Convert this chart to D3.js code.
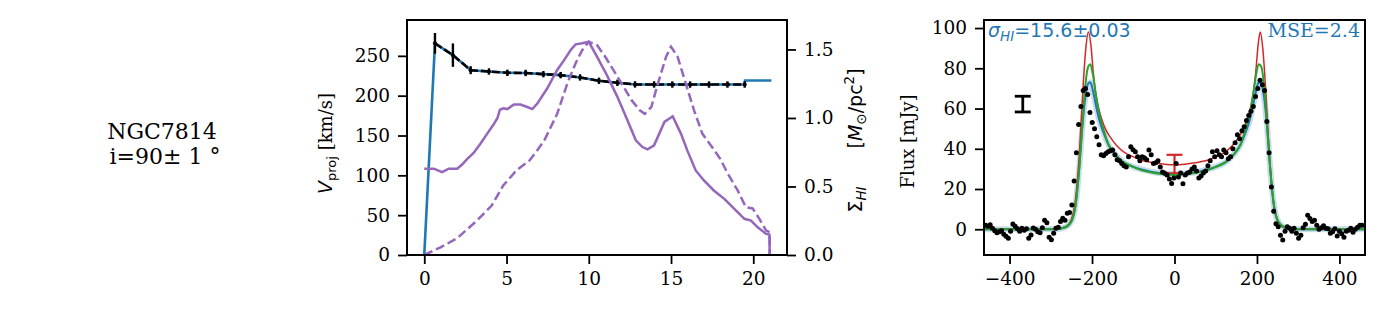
<!DOCTYPE html>
<html>
<head>
<meta charset="utf-8">
<script src="https://cdn.jsdelivr.net/npm/d3@7"></script>
<style>
  body { margin: 0; background: #fff; }
  text { font-family: "DejaVu Serif", serif; }
</style>
</head>
<body>
<div id="wrapper"></div>
<script>
// galaxy label
const galaxyName = "NGC7814";
const inclination = "i=90\u00b1 1 \u00b0";

// rotation curve: observed points (radius kpc, velocity km/s, error)
const rObs = [0.65, 1.74, 2.82, 3.93, 5.05, 6.16, 7.24, 8.29, 9.47, 10.62, 11.74, 12.81, 13.97, 15.08, 16.16, 17.31, 18.43, 19.48];
const vObs = [265.7, 250.9, 232, 230.4, 228.7, 228.5, 227, 225.8, 222.9, 218.7, 216.2, 214.1, 214.1, 214, 214, 214, 214, 214];
const vErr = [13, 14.7, 5, 4, 4, 4, 4, 4, 4, 4, 4, 4, 4, 4, 4, 4, 4, 4];

// model rotation curve (blue)
const rModel = [0, 0.65, 1.74, 2.82, 3.93, 5.05, 6.16, 7.24, 8.29, 9.47, 10.62, 11.74, 12.81, 13.97, 15.08, 16.16, 17.31, 18.43, 19.48, 19.5, 21.1];
const vModel = [0, 265.7, 250.9, 232, 230.4, 228.7, 228.5, 227, 225.8, 222.9, 218.7, 216.2, 214.1, 214.1, 214, 214, 214, 214, 214, 219, 219];

// surface density profiles (right axis)
const rSigSolid = [0, 0.58, 1.08, 1.49, 2.0, 2.3, 2.6, 3.0, 3.4, 3.8, 4.2, 4.45, 4.6, 4.8, 5.05, 5.45, 5.85, 6.26, 6.57, 6.87, 7.47, 8.08, 8.49, 8.9, 9.2, 9.61, 10.0, 10.5, 11.1, 11.74, 12.35, 12.86, 13.26, 13.57, 13.97, 14.6, 15.1, 15.6, 16.0, 16.5, 17.0, 17.6, 18.24, 18.85, 19.46, 19.86, 20.27, 20.78, 20.98, 21.0];
const sigSolid  = [0.63, 0.63, 0.605, 0.63, 0.63, 0.66, 0.70, 0.745, 0.81, 0.88, 0.95, 1.0, 1.06, 1.07, 1.065, 1.098, 1.098, 1.08, 1.065, 1.105, 1.215, 1.35, 1.42, 1.496, 1.537, 1.545, 1.556, 1.447, 1.313, 1.154, 0.983, 0.837, 0.788, 0.771, 0.80, 0.971, 1.012, 0.886, 0.76, 0.617, 0.544, 0.471, 0.41, 0.337, 0.264, 0.251, 0.202, 0.154, 0.15, 0];
const rSigDash = [0, 0.99, 2.0, 3.2, 4.1, 4.8, 5.6, 6.4, 6.86, 7.3, 8.08, 8.69, 9.2, 9.6, 10.0, 10.5, 11.0, 11.5, 12.0, 12.6, 13.1, 13.4, 13.8, 14.2, 14.7, 15.0, 15.4, 15.9, 16.4, 16.9, 17.6, 18.0, 18.4, 19.05, 19.55, 19.96, 20.37, 20.78, 21.0, 21.0];
const sigDash  = [0, 0.056, 0.122, 0.251, 0.361, 0.507, 0.617, 0.69, 0.763, 0.837, 1.03, 1.25, 1.40, 1.495, 1.556, 1.532, 1.447, 1.349, 1.25, 1.13, 1.056, 1.03, 1.08, 1.25, 1.447, 1.52, 1.447, 1.25, 1.056, 0.886, 0.77, 0.70, 0.605, 0.471, 0.349, 0.34, 0.264, 0.178, 0.166, 0];

// HI spectrum: channels start at -458 km/s, 5.5 km/s wide
const chanStart = -458, chanWidth = 5.5;
const fluxObs = [2.0, 1.5, 2.2, 0.5, -0.8, -1.8, -1.2, -0.8, -2.5, -3.5,
  -4.5, -1.0, 2.6, 1.5, 0.2, -1.0, 0.5, -0.5, 0.2, -4.5,
  -2.8, 0.6, 0.0, -1.2, -1.8, 0.8, 4.5, 3.2, -4.0, -5.2,
  -2.0, 0.5, 1.0, 3.8, 5.5, 4.5, 8.0, 8.3, 12.0, 24,
  38, 52, 61, 69, 70, 67, 58, 53, 50, 46,
  42, 37, 36.5, 37.7, 38.5, 39, 39.4, 37, 34.5, 34,
  32.7, 31.5, 31, 36, 41, 39.5, 38.5, 36, 34, 36,
  35.5, 34.5, 39.4, 37, 32.7, 33, 34, 31, 28.5, 27.8,
  27, 25, 22.7, 25.5, 32.7, 26, 28, 22.6, 27, 28,
  28.5, 30, 31, 29, 25.5, 26.5, 28, 29, 31.6, 34,
  38.5, 36, 39, 37, 36, 39.4, 38, 35, 36, 40,
  43, 47, 45, 49, 51, 54, 56.5, 58.6, 61, 66,
  70, 74, 71.8, 69, 53.5, 38, 21, 9, 2.7, 1.3,
  -3, -5.4, -1.0, 1.3, 0.5, -1.0, 0.5, -2.0, -4.5, -3.0,
  0.8, 2.5, 7.0, 5.4, 3.8, 4.5, 2.0, 0.0, 0.8, 1.8,
  0.5, 0.2, -2.0, -1.2, 0.2, -3.4, -1.0, -2.2, -4.0, -1.0,
  -0.5, 0.5, -1.5, 0.0, 1.0, 2.0, 2.0];

// model profiles
const vProf = [-470, -290, -265, -250, -240, -232, -224, -216, -209, -204, -198, -190, -182, -172, -160, -145, -125, -100, -75, -50, -25, 0,
  25, 50, 75, 100, 125, 145, 160, 172, 182, 190, 198, 204, 210, 217, 225, 233, 241, 251, 266, 290, 470];
const fluxFit = [0, 0, 1, 4, 12, 28, 50, 66, 72.5, 73, 69, 61, 54, 48, 42, 37.5, 33.5, 31, 29.5, 28.3, 27.7, 27.5,
  27.7, 28.3, 29.5, 31, 33.5, 37.5, 42, 48, 54, 61, 69, 73, 72.5, 66, 50, 28, 12, 4, 1, 0, 0];
const fluxGreen = [0, 0, 1, 4, 12, 28, 50, 72, 81, 82, 77, 66, 57, 49.5, 42, 37.5, 33.5, 31, 29, 28, 27.3, 27,
  27.3, 28, 29, 31, 33.5, 37.5, 42, 49.5, 57, 66, 77, 82, 81, 72, 50, 28, 12, 4, 1, 0, 0];
const vRed = [-470, -290, -265, -250, -240, -230, -222, -215, -209, -203, -197, -190, -180, -170, -155, -140, -120, -100, -75, -50, -25, 0,
  25, 50, 75, 100, 120, 140, 155, 170, 180, 190, 197, 203, 208, 214, 221, 229, 239, 249, 264, 290, 470];
const fluxRed = [0, 0, 1, 5, 15, 40, 70, 90, 98, 92, 78, 66, 57, 51, 45.5, 41.5, 38, 36, 34, 33, 32.3, 32,
  32.3, 33, 34, 36, 38, 41.5, 45.5, 51, 57, 66, 78, 92, 98, 90, 70, 40, 15, 5, 1, 0, 0];

// error bars on the spectrum panel
const noiseBar = { v: -368, lo: 58.3, hi: 66.1 };
const redBar = { v: 0, lo: 27.8, hi: 37 };

const sigmaText = "15.6\u00b10.03";
const mseText = "MSE=2.4";

const xTicksRC = [0, 5, 10, 15, 20];
const yTicksRC = [0, 50, 100, 150, 200, 250];
const yTicksSig = [0, 0.5, 1.0, 1.5];
const xTicksSp = [-400, -200, 0, 200, 400];
const yTicksSp = [0, 20, 40, 60, 80, 100];

const W = 1384, H = 311;
const blue = "#1f77b4", purple = "#9467bd", green = "#2ca02c", red = "#d62728";

const svg = d3.select("#wrapper").append("svg").attr("width", W).attr("height", H);

// title text
const title = svg.append("text").attr("text-anchor", "middle").style("font-size", "22px");
title.append("tspan").attr("x", 162).attr("y", 139).text(galaxyName);
title.append("tspan").attr("x", 165).attr("y", 164).text(inclination);

function styleAxis(g) {
  g.select(".domain").remove();
  g.selectAll(".tick line").attr("stroke", "#000").attr("stroke-width", 1.8);
  g.selectAll(".tick text").style("font-family", "DejaVu Serif").style("font-size", "18.5px").attr("fill", "#000");
}

// ---------- rotation curve panel ----------
const p1 = { l: 407, r: 787, t: 20, b: 255 };
const x1 = d3.scaleLinear().domain([-1.05, 22.05]).range([p1.l, p1.r]);
const y1 = d3.scaleLinear().domain([0, 295]).range([p1.b, p1.t]);
const y1r = d3.scaleLinear().domain([0, 1.715]).range([p1.b, p1.t]);

svg.append("clipPath").attr("id", "c1").append("rect")
  .attr("x", p1.l).attr("y", p1.t).attr("width", p1.r - p1.l).attr("height", p1.b - p1.t);
const g1 = svg.append("g").attr("clip-path", "url(#c1)");

const line1 = d3.line().x(d => x1(d[0])).y(d => y1(d[1]));
g1.append("path").datum(d3.zip(rModel, vModel)).attr("d", line1)
  .attr("fill", "none").attr("stroke", blue).attr("stroke-width", 2.6);
g1.append("path").datum(d3.zip(rObs, vObs)).attr("d", line1)
  .attr("fill", "none").attr("stroke", "#000").attr("stroke-width", 2.6).attr("stroke-dasharray", "8,3");
g1.selectAll(".eb").data(d3.zip(rObs, vObs, vErr)).enter().append("line")
  .attr("x1", d => x1(d[0])).attr("x2", d => x1(d[0]))
  .attr("y1", d => y1(d[1] - d[2])).attr("y2", d => y1(d[1] + d[2]))
  .attr("stroke", "#000").attr("stroke-width", 2.4);
g1.selectAll(".pt").data(d3.zip(rObs, vObs)).enter().append("circle")
  .attr("cx", d => x1(d[0])).attr("cy", d => y1(d[1])).attr("r", 2).attr("fill", "#000");

const lineSig = d3.line().x(d => x1(d[0])).y(d => y1r(d[1]));
g1.append("path").datum(d3.zip(rSigSolid, sigSolid)).attr("d", lineSig)
  .attr("fill", "none").attr("stroke", purple).attr("stroke-width", 2.5);
g1.append("path").datum(d3.zip(rSigDash, sigDash)).attr("d", lineSig)
  .attr("fill", "none").attr("stroke", purple).attr("stroke-width", 2.5).attr("stroke-dasharray", "9,4");

svg.append("g").attr("transform", `translate(0,${p1.b})`)
  .call(d3.axisBottom(x1).tickValues(xTicksRC).tickSize(9).tickPadding(8).tickSizeOuter(0)).call(styleAxis);
svg.append("g").attr("transform", `translate(${p1.l},0)`)
  .call(d3.axisLeft(y1).tickValues(yTicksRC).tickSize(9).tickPadding(8).tickSizeOuter(0)).call(styleAxis);
svg.append("g").attr("transform", `translate(${p1.r},0)`)
  .call(d3.axisRight(y1r).tickValues(yTicksSig).tickFormat(d3.format(".1f")).tickSize(9).tickPadding(8).tickSizeOuter(0)).call(styleAxis);
svg.append("rect").attr("x", p1.l).attr("y", p1.t).attr("width", p1.r - p1.l).attr("height", p1.b - p1.t)
  .attr("fill", "none").attr("stroke", "#000").attr("stroke-width", 2);

// axis labels
const lab1 = svg.append("text").attr("transform", `translate(332,${(p1.t + p1.b) / 2 + 6}) rotate(-90)`)
  .attr("text-anchor", "middle").style("font-size", "18px");
lab1.append("tspan").style("font-family", "DejaVu Sans").style("font-style", "italic").style("font-size", "19px").text("V");
lab1.append("tspan").style("font-family", "DejaVu Sans").style("font-size", "13px").attr("dy", 4).text("proj");
lab1.append("tspan").attr("dy", -4).text(" [km/s]");

const lab2 = svg.append("text").attr("transform", `translate(862,${(p1.t + p1.b) / 2 + 3}) rotate(-90)`)
  .attr("text-anchor", "middle").style("font-family", "DejaVu Sans").style("font-size", "19px");
lab2.append("tspan").text("\u03a3");
lab2.append("tspan").style("font-style", "italic").style("font-size", "13.5px").attr("dy", 4).text("HI");
lab2.append("tspan").attr("dy", -4).attr("xml:space", "preserve").text("\u2003\u2003[");
lab2.append("tspan").style("font-style", "italic").text("M");
lab2.append("tspan").style("font-size", "13.5px").attr("dy", 4).text("\u2299");
lab2.append("tspan").attr("dy", -4).text("/pc");
lab2.append("tspan").style("font-size", "13.5px").attr("dy", -8).text("2");
lab2.append("tspan").attr("dy", 8).text("]");

// ---------- spectrum panel ----------
const p2 = { l: 984, r: 1365, t: 20, b: 255 };
const x2 = d3.scaleLinear().domain([-462, 462]).range([p2.l, p2.r]);
const y2 = d3.scaleLinear().domain([-12.8, 104]).range([p2.b, p2.t]);

svg.append("clipPath").attr("id", "c2").append("rect")
  .attr("x", p2.l).attr("y", p2.t).attr("width", p2.r - p2.l).attr("height", p2.b - p2.t);
const g2 = svg.append("g").attr("clip-path", "url(#c2)");

const line2 = d3.line().x(d => x2(d[0])).y(d => y2(d[1])).curve(d3.curveMonotoneX);
g2.append("path").datum(d3.zip(vProf, fluxFit)).attr("d", line2)
  .attr("fill", "none").attr("stroke", blue).attr("stroke-opacity", 0.25).attr("stroke-width", 6);
g2.append("path").datum(d3.zip(vProf, fluxFit)).attr("d", line2)
  .attr("fill", "none").attr("stroke", blue).attr("stroke-width", 2);

function errBar(b, color, w) {
  const cx = x2(b.v), hw = 8;
  g2.append("line").attr("x1", cx).attr("x2", cx).attr("y1", y2(b.lo)).attr("y2", y2(b.hi))
    .attr("stroke", color).attr("stroke-width", w);
  [b.lo, b.hi].forEach(f => g2.append("line").attr("x1", cx - hw).attr("x2", cx + hw)
    .attr("y1", y2(f)).attr("y2", y2(f)).attr("stroke", color).attr("stroke-width", w));
}
errBar(redBar, red, 2.2);

g2.append("path").datum(d3.zip(vRed, fluxRed)).attr("d", line2)
  .attr("fill", "none").attr("stroke", red).attr("stroke-width", 1.5);
g2.append("path").datum(d3.zip(vProf, fluxGreen)).attr("d", line2)
  .attr("fill", "none").attr("stroke", green).attr("stroke-width", 2);
errBar(noiseBar, "#000", 2.8);

g2.selectAll(".dot").data(fluxObs).enter().append("circle")
  .attr("cx", (d, i) => x2(chanStart + i * chanWidth)).attr("cy", d => y2(d))
  .attr("r", 2.5).attr("fill", "#000");

svg.append("g").attr("transform", `translate(0,${p2.b})`)
  .call(d3.axisBottom(x2).tickValues(xTicksSp).tickFormat(d => d < 0 ? "\u2212" + Math.abs(d) : d)
    .tickSize(9).tickPadding(8).tickSizeOuter(0)).call(styleAxis);
svg.append("g").attr("transform", `translate(${p2.l},0)`)
  .call(d3.axisLeft(y2).tickValues(yTicksSp).tickSize(9).tickPadding(8).tickSizeOuter(0)).call(styleAxis);
svg.append("rect").attr("x", p2.l).attr("y", p2.t).attr("width", p2.r - p2.l).attr("height", p2.b - p2.t)
  .attr("fill", "none").attr("stroke", "#000").attr("stroke-width", 2);

svg.append("text").attr("transform", `translate(914,${(p2.t + p2.b) / 2 + 4}) rotate(-90)`)
  .attr("text-anchor", "middle").style("font-size", "18px").text("Flux [mJy]");

const sig = svg.append("text").attr("x", 988).attr("y", 37).attr("fill", blue)
  .style("font-family", "DejaVu Sans").style("font-size", "19px");
sig.append("tspan").style("font-style", "italic").text("\u03c3");
sig.append("tspan").style("font-style", "italic").style("font-size", "13.5px").attr("dy", 4).text("HI");
sig.append("tspan").attr("dy", -4).text("=" + sigmaText);

svg.append("text").attr("x", 1360).attr("y", 37).attr("text-anchor", "end").attr("fill", blue)
  .style("font-size", "19px").text(mseText);
</script>
</body>
</html>
